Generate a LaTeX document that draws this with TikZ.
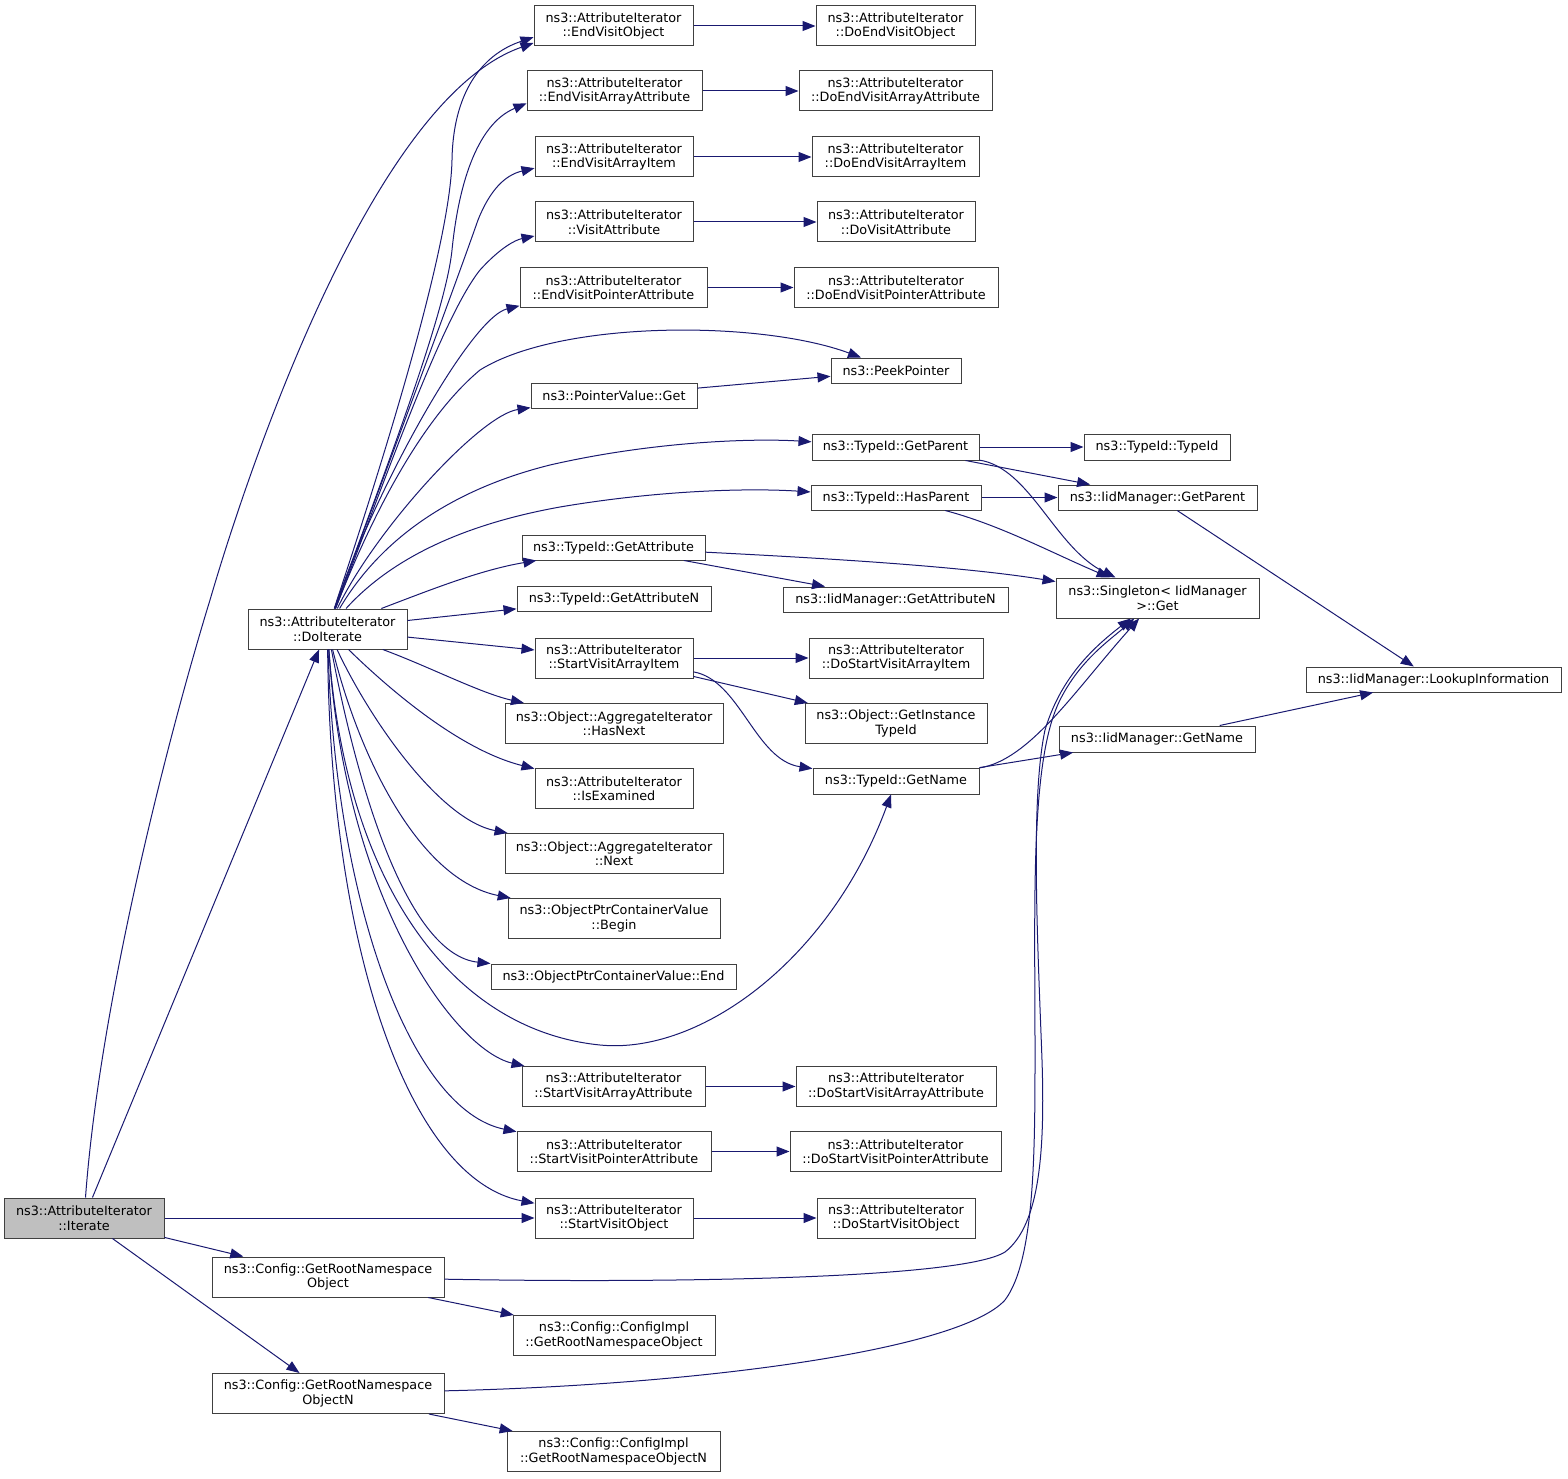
\documentclass[tikz,border=0pt]{standalone}
\usepackage{fontspec}
\setmainfont{DejaVu Sans}
\usetikzlibrary{arrows.meta}
\definecolor{edgeblue}{RGB}{25,25,112}
\definecolor{boxline}{RGB}{64,64,64}
\definecolor{rootfill}{RGB}{191,191,191}
\newcommand{\fnfont}{\fontsize{12.8}{14.5}\selectfont}
\tikzstyle{func} = [rectangle, 
draw=boxline, 
fill=white, 
line width=1pt, 
inner sep=0pt, 
minimum height=25pt, 
align=center, 
font=\fnfont]
\tikzstyle{functwo} = [func, minimum height=40pt]
\tikzstyle{root} = [functwo, fill=rootfill]
\tikzstyle{arrow} = [edgeblue, line width=1pt, -{Triangle[length=13pt,width=10pt]}]

\begin{document}
\begin{tikzpicture}[x=1pt, y=-1pt]
    \useasboundingbox (0,0) rectangle (1568,1479);

    \node at (84,1218) (iter) [root, minimum width=160pt] {ns3::AttributeIterator\\::Iterate};
    \node at (327.5,629) (doit) [functwo, minimum width=159pt] {ns3::AttributeIterator\\::DoIterate};

    \node at (613.5,26) (evo) [functwo, minimum width=159pt] {ns3::AttributeIterator\\::EndVisitObject};
    \node at (895.5,26) (devo) [functwo, minimum width=159pt] {ns3::AttributeIterator\\::DoEndVisitObject};
    \node at (614.5,91) (evaa) [functwo, minimum width=175pt] {ns3::AttributeIterator\\::EndVisitArrayAttribute};
    \node at (895.5,91) (devaa) [functwo, minimum width=193pt] {ns3::AttributeIterator\\::DoEndVisitArrayAttribute};
    \node at (614,157) (evai) [functwo, minimum width=158pt] {ns3::AttributeIterator\\::EndVisitArrayItem};
    \node at (895.5,157) (devai) [functwo, minimum width=167pt] {ns3::AttributeIterator\\::DoEndVisitArrayItem};
    \node at (614,222) (va) [functwo, minimum width=158pt] {ns3::AttributeIterator\\::VisitAttribute};
    \node at (896,222) (dva) [functwo, minimum width=158pt] {ns3::AttributeIterator\\::DoVisitAttribute};
    \node at (613.5,287.5) (evpa) [functwo, minimum width=187pt] {ns3::AttributeIterator\\::EndVisitPointerAttribute};
    \node at (896,287.5) (devpa) [functwo, minimum width=204pt] {ns3::AttributeIterator\\::DoEndVisitPointerAttribute};
    \node at (896,370.5) (peek) [func, minimum width=130pt] {ns3::PeekPointer};
    \node at (614,395.5) (pvg) [func, minimum width=166pt] {ns3::PointerValue::Get};

    \node at (895.5,447) (tgp) [func, minimum width=167pt, minimum height=26pt] {ns3::TypeId::GetParent};
    \node at (1157,447) (tti) [func, minimum width=146pt, minimum height=26pt] {ns3::TypeId::TypeId};
    \node at (896,497.5) (thp) [func, minimum width=170pt] {ns3::TypeId::HasParent};
    \node at (1157.5,497.5) (igp) [func, minimum width=199pt] {ns3::IidManager::GetParent};
    \node at (613.5,547.5) (tga) [func, minimum width=183pt] {ns3::TypeId::GetAttribute};
    \node at (895.5,599.5) (igan) [func, minimum width=225pt] {ns3::IidManager::GetAttributeN};
    \node at (1157.5,598) (sing) [functwo, minimum width=203pt] {ns3::Singleton< IidManager\\>::Get};
    \node at (614,598.5) (tgan) [func, minimum width=194pt] {ns3::TypeId::GetAttributeN};
    \node at (614,658) (svai) [functwo, minimum width=158pt] {ns3::AttributeIterator\\::StartVisitArrayItem};
    \node at (896,658) (dsvai) [functwo, minimum width=174pt] {ns3::AttributeIterator\\::DoStartVisitArrayItem};
    \node at (1433.5,679.5) (lookup) [func, minimum width=255pt] {ns3::IidManager::LookupInformation};
    \node at (896,723.5) (goti) [functwo, minimum width=182pt] {ns3::Object::GetInstance\\TypeId};
    \node at (614,723.5) (aghasnext) [functwo, minimum width=218pt] {ns3::Object::AggregateIterator\\::HasNext};
    \node at (1157,739) (ign) [func, minimum width=196pt, minimum height=26pt] {ns3::IidManager::GetName};
    \node at (614,788.5) (isex) [functwo, minimum width=158pt] {ns3::AttributeIterator\\::IsExamined};
    \node at (896,781) (tgn) [func, minimum width=166pt, minimum height=26pt] {ns3::TypeId::GetName};
    \node at (614,853.5) (agnext) [functwo, minimum width=218pt] {ns3::Object::AggregateIterator\\::Next};
    \node at (614,918.5) (ocbegin) [functwo, minimum width=212pt] {ns3::ObjectPtrContainerValue\\::Begin};
    \node at (613.5,976.5) (ocend) [func, minimum width=245pt] {ns3::ObjectPtrContainerValue::End};

    \node at (613.5,1086.5) (svaa) [functwo, minimum width=183pt] {ns3::AttributeIterator\\::StartVisitArrayAttribute};
    \node at (896,1086.5) (dsvaa) [functwo, minimum width=200pt] {ns3::AttributeIterator\\::DoStartVisitArrayAttribute};
    \node at (614,1151.5) (svpa) [functwo, minimum width=194pt] {ns3::AttributeIterator\\::StartVisitPointerAttribute};
    \node at (895.5,1151.5) (dsvpa) [functwo, minimum width=211pt] {ns3::AttributeIterator\\::DoStartVisitPointerAttribute};
    \node at (614,1218) (svo) [functwo, minimum width=158pt] {ns3::AttributeIterator\\::StartVisitObject};
    \node at (896,1218) (dsvo) [functwo, minimum width=158pt] {ns3::AttributeIterator\\::DoStartVisitObject};
    \node at (328,1277) (gro) [functwo, minimum width=232pt] {ns3::Config::GetRootNamespace\\Object};
    \node at (614,1335.5) (cigro) [functwo, minimum width=202pt] {ns3::Config::ConfigImpl\\::GetRootNamespaceObject};
    \node at (328,1393.5) (gron) [functwo, minimum width=232pt] {ns3::Config::GetRootNamespace\\ObjectN};
    \node at (613.5,1451.5) (cigron) [functwo, minimum width=213pt] {ns3::Config::ConfigImpl\\::GetRootNamespaceObjectN};

    % calls from Iterate
    \draw [arrow] (iter) -- (doit);
    \draw [arrow] (iter) .. controls (100,1000) and (170,730) .. (210,600) .. controls (245,480) and (370,100) .. (evo.192);
    \draw [arrow] (iter) -- (svo);
    \draw [arrow] (iter) -- (gro);
    \draw [arrow] (iter) -- (gron);

    % calls from DoIterate
    \draw [arrow] (doit) .. controls (360,530) and (450,260) .. (452,160) .. controls (453,95) and (480,55) .. (evo.188);
    \draw [arrow] (doit) .. controls (370,510) and (445,320) .. (452,250) .. controls (458,190) and (475,125) .. (evaa.188);
    \draw [arrow] (doit) .. controls (375,500) and (450,300) .. (478,220) .. controls (490,190) and (505,175) .. (evai.188);
    \draw [arrow] (doit) .. controls (378,500) and (440,320) .. (480,270) .. controls (500,248) and (515,240) .. (va.190);
    \draw [arrow] (doit) .. controls (375,490) and (470,318) .. (evpa.191);
    \draw [arrow] (doit) .. controls (370,520) and (420,420) .. (480,370) .. controls (560,320) and (760,320) .. (peek);
    \draw [arrow] (doit) .. controls (375,530) and (480,415) .. (pvg);
    \draw [arrow] (doit) .. controls (380,540) and (450,490) .. (550,465) .. controls (650,442) and (750,438) .. (tgp);
    \draw [arrow] (doit) .. controls (390,560) and (460,525) .. (560,507) .. controls (660,490) and (750,488) .. (thp);
    \draw [arrow] (doit) .. controls (430,590) and (480,570) .. (tga);
    \draw [arrow] (doit) -- (tgan);
    \draw [arrow] (doit) -- (svai);
    \draw [arrow] (doit) .. controls (430,667) and (480,693) .. (aghasnext);
    \draw [arrow] (doit) .. controls (390,690) and (460,750) .. (isex);
    \draw [arrow] (doit) .. controls (370,720) and (440,820) .. (agnext);
    \draw [arrow] (doit) .. controls (360,760) and (420,880) .. (ocbegin);
    \draw [arrow] (doit) .. controls (360,800) and (410,955) .. (ocend);
    \draw [arrow] (doit) .. controls (345,880) and (450,1030) .. (600,1045) .. controls (700,1055) and (830,960) .. (tgn);
    \draw [arrow] (doit) .. controls (345,900) and (455,1050) .. (svaa);
    \draw [arrow] (doit) .. controls (335,900) and (410,1110) .. (svpa);
    \draw [arrow] (doit) .. controls (330,950) and (410,1180) .. (svo);

    % visitor pairs
    \draw [arrow] (evo) -- (devo);
    \draw [arrow] (evaa) -- (devaa);
    \draw [arrow] (evai) -- (devai);
    \draw [arrow] (va) -- (dva);
    \draw [arrow] (evpa) -- (devpa);
    \draw [arrow] (svaa) -- (dsvaa);
    \draw [arrow] (svpa) -- (dsvpa);
    \draw [arrow] (svo) -- (dsvo);

    \draw [arrow] (pvg) -- (peek);
    \draw [arrow] (tgp) -- (tti);
    \draw [arrow] (tgp) -- (igp);
    \draw [arrow] (tgp) .. controls (1030,468) and (1055,548) .. (sing);
    \draw [arrow] (thp) -- (igp);
    \draw [arrow] (thp) .. controls (1000,525) and (1050,552) .. (sing);
    \draw [arrow] (tga) .. controls (820,558) and (960,566) .. (sing);
    \draw [arrow] (tga) -- (igan);
    \draw [arrow] (igp) -- (lookup);
    \draw [arrow] (svai) -- (dsvai);
    \draw [arrow] (svai) -- (goti);
    \draw [arrow] (svai) .. controls (740,680) and (755,760) .. (tgn);
    \draw [arrow] (tgn) .. controls (1030,760) and (1075,690) .. (sing);
    \draw [arrow] (tgn) -- (ign);
    \draw [arrow] (ign) -- (lookup);

    % config calls
    \draw [arrow] (gro) -- (cigro);
    \draw [arrow] (gro) .. controls (650,1283) and (960,1280) .. (1005,1252) .. controls (1040,1225) and (1045,1150) .. (1042,1060) .. controls (1038,950) and (1030,800) .. (1045,730) .. controls (1060,680) and (1090,650) .. (sing);
    \draw [arrow] (gron) -- (cigron);
    \draw [arrow] (gron) .. controls (700,1385) and (960,1350) .. (1005,1300) .. controls (1035,1260) and (1035,1150) .. (1035,1050) .. controls (1035,900) and (1030,760) .. (1060,700) .. controls (1080,660) and (1110,640) .. (sing);
\end{tikzpicture}
\end{document}
